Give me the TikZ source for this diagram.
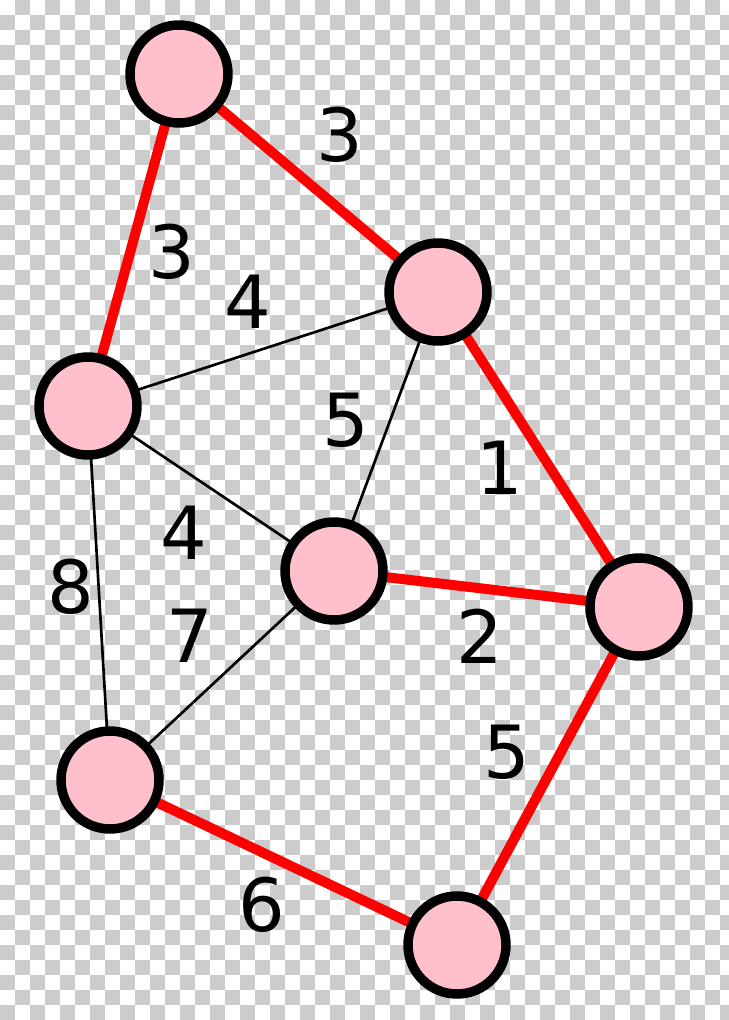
\documentclass[tikz,border=0pt]{standalone}
\usepackage{fontspec}
\setmainfont{DejaVu Sans}
\pgfdeclarelayer{bg}
\pgfdeclarelayer{edges}
\pgfsetlayers{bg,edges,main}
\definecolor{checkgrey}{RGB}{204,204,204}
\definecolor{nodepink}{RGB}{255,192,203}
\tikzset{
  vertex/.style={circle, draw=black, fill=nodepink, line width=7.1pt, minimum size=73.5pt, inner sep=0pt},
  redge/.style={draw=red, line width=7.5pt},
  bedge/.style={draw=black, line width=2pt},
  wlabel/.style={inner sep=0pt, font=\fontsize{55}{60}\selectfont}
}
\begin{document}
\begin{tikzpicture}[x=0.75pt, y=-0.75pt]
\useasboundingbox (0,0) rectangle (728,1020);
\begin{pgfonlayer}{bg}
  \fill[white] (0,0) rectangle (728,1020);
  \foreach \j in {0,2,...,66} {
    \foreach \i in {15,45,...,720} {
      \fill[checkgrey] (\i,\j*15) rectangle ++(15,15);
    }
  }
  \foreach \j in {1,3,...,67} {
    \foreach \i in {0,30,...,720} {
      \fill[checkgrey] (\i,\j*15) rectangle ++(15,15);
    }
  }
\end{pgfonlayer}

\node[vertex] (A) at (179,74) {};
\node[vertex] (B) at (438,292) {};
\node[vertex] (C) at (88,406) {};
\node[vertex] (D) at (334,571) {};
\node[vertex] (E) at (639,607) {};
\node[vertex] (F) at (110,780) {};
\node[vertex] (G) at (457,945) {};

\begin{pgfonlayer}{edges}
  \draw[redge] (A.center) -- (B.center);
  \draw[redge] (A.center) -- (C.center);
  \draw[bedge] (C.center) -- (B.center);
  \draw[bedge] (C.center) -- (D.center);
  \draw[bedge] (B.center) -- (D.center);
  \draw[redge] (B.center) -- (E.center);
  \draw[redge] (D.center) -- (E.center);
  \draw[bedge] (C.center) -- (F.center);
  \draw[bedge] (D.center) -- (F.center);
  \draw[redge] (F.center) -- (G.center);
  \draw[redge] (E.center) -- (G.center);
\end{pgfonlayer}

\node[wlabel] (lAB) at (340,135) {3};
\node[wlabel] (lAC) at (172,252) {3};
\node[wlabel] (lCB) at (248,302) {4};
\node[wlabel] (lBD) at (346,420) {5};
\node[wlabel] (lBE) at (500,468) {1};
\node[wlabel] (lCD) at (184,533) {4};
\node[wlabel] (lCF) at (71,587) {8};
\node[wlabel] (lDF) at (190,636) {7};
\node[wlabel] (lDE) at (480,636) {2};
\node[wlabel] (lEG) at (507,752) {5};
\node[wlabel] (lFG) at (262,905) {6};
\end{tikzpicture}
\end{document}
